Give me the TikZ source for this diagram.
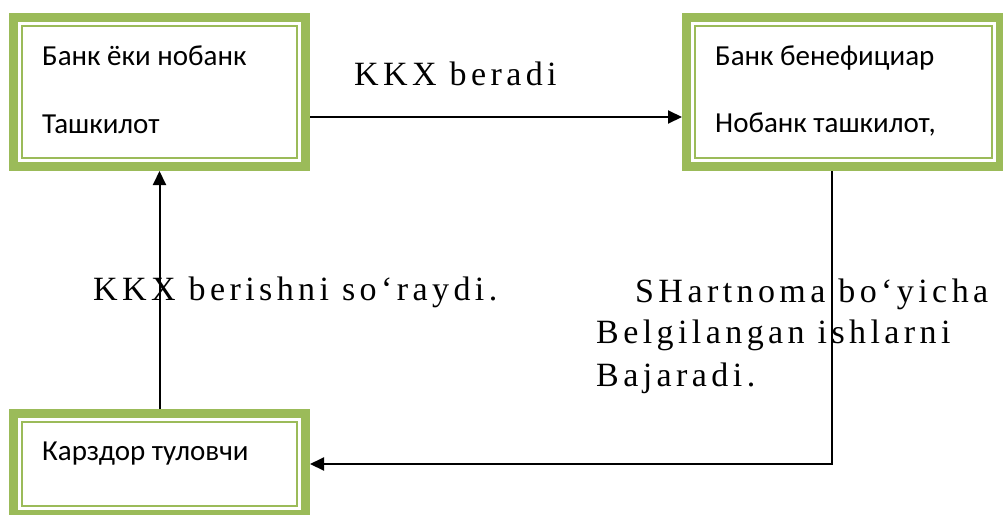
\documentclass[tikz,border=0pt]{standalone}
\usepackage{fontspec}
\setmainfont{Carlito}
\newfontfamily\tnr[LetterSpace=13]{Liberation Serif}
\usetikzlibrary{calc,arrows.meta}
\definecolor{olivebox}{HTML}{9BBB59}
\begin{document}
\begin{tikzpicture}[x=1pt,y=-1pt,
  outerbox/.style={draw=olivebox, line width=9pt, inner sep=0pt, anchor=north west, minimum height=149pt},
  innerline/.style={draw=olivebox, line width=2pt},
  boxtext/.style={anchor=base west, inner sep=0pt, font=\fontsize{29}{34}\selectfont},
  bigtext/.style={anchor=base west, inner sep=0pt, font=\tnr\fontsize{34}{40}\selectfont},
  conn/.style={draw=black, line width=2pt},
  tip/.style={-{Triangle[length=14pt,width=13pt]}}]
\useasboundingbox (0,0) rectangle (1003,514);
\clip (0,0) rectangle (1003,514);
% boxes
\node[outerbox, minimum width=292pt] (b1) at (9,13) {};
\node[outerbox, minimum width=314pt] (b2) at (682,13) {};
\node[outerbox, minimum width=292pt, minimum height=101pt] (b3) at (9,409) {};
\foreach \b in {b1,b2,b3}
  \draw[innerline] ($(\b.north west)+(12.7,12.7)$) rectangle ($(\b.south east)+(-12.7,-12.7)$);
% box texts
\node[boxtext] (t1a) at (42,65) {Банк ёки нобанк};
\node[boxtext] (t1b) at (42,133) {Ташкилот};
\node[boxtext] (t2a) at (715,65) {Банк бенефициар};
\node[boxtext] (t2b) at (715,132) {Нобанк ташкилот,};
\node[boxtext] (t3a) at (42,460) {Карздор туловчи};
% connectors
\draw[conn,tip] ($(b1.east)+(0,25)$) -- ($(b2.west)+(0,25)$);
\draw[conn,tip] (b3.north) -- (b1.south);
\coordinate (c1) at ($(b2.south west)+(150,0)$);
\draw[conn,tip] (c1) |- (b3.east);
% labels
\node[bigtext] (l1) at (354,85) {KKX beradi};
\node[bigtext] (l2) at (93,300) {KKX berishni so‘raydi.};
\node[bigtext] (l3) at (635,302) {SHartnoma bo‘yicha};
\node[bigtext] (l4) at (596,343) {Belgilangan ishlarni};
\node[bigtext] (l5) at (596,386) {Bajaradi.};
\end{tikzpicture}
\end{document}
